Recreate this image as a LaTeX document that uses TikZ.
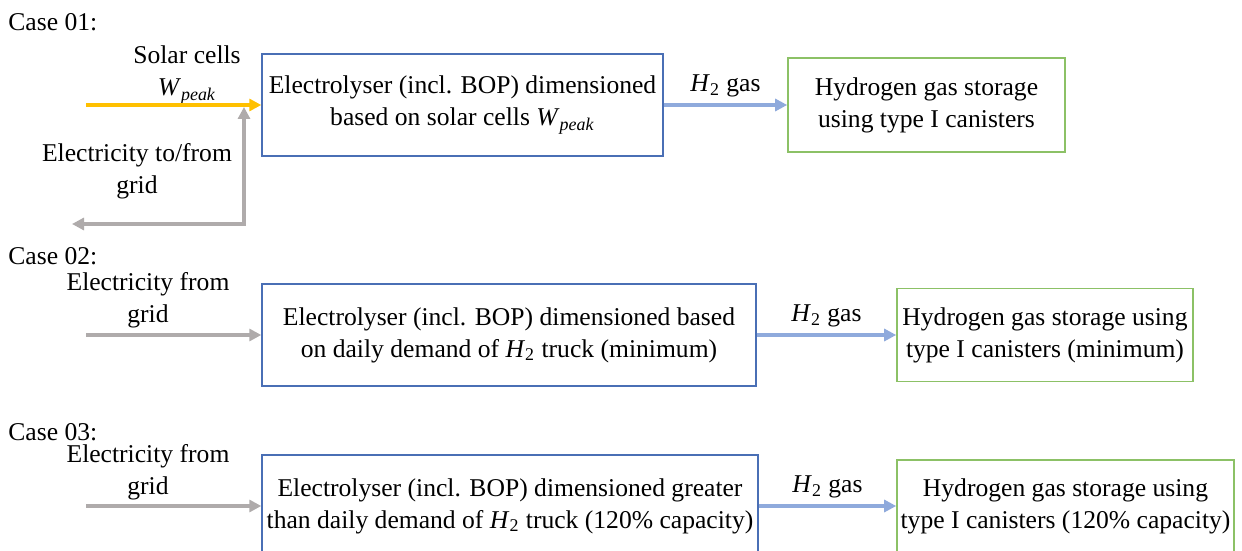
\documentclass[tikz,border=0pt]{standalone}
\usepackage{fontspec}
\setmainfont{Liberation Serif}
\usetikzlibrary{arrows.meta}
\definecolor{boxblue}{HTML}{4A6FB5}
\definecolor{boxgreen}{HTML}{8CC166}
\definecolor{solar}{HTML}{FFC000}
\definecolor{gridgray}{HTML}{AFABAB}
\definecolor{h2blue}{HTML}{8FAADC}
\tikzset{
  txt/.style={font=\fontsize{12.8}{16}\selectfont},
  elbox/.style={txt, draw=boxblue, line width=0.7pt, rectangle, align=center, inner sep=0pt},
  stbox/.style={txt, draw=boxgreen, line width=0.8pt, rectangle, align=center, inner sep=0pt},
  lbl/.style={txt, align=center, inner sep=0pt},
  flow/.style={line width=1.6pt, -{Triangle[length=6pt,width=6pt]}},
  solarflow/.style={flow, draw=solar},
  gridflow/.style={flow, draw=gridgray},
  h2flow/.style={flow, draw=h2blue},
}
\newcommand{\Htwo}{\textit{H}\textsubscript{2}}
\newcommand{\Wpk}{\textit{W}\textsubscript{\textit{peak}}}
\begin{document}
\begin{tikzpicture}[x=0.5pt,y=-0.5pt]
\clip (0,0) rectangle (1242,551);
\fill[white] (0,0) rectangle (1242,551);

% Case 01
\node[lbl, anchor=west] (c1) at (8,22) {Case 01:};
\node[lbl] (sol) at (187,75) {Solar cells\\\Wpk};
\node[lbl] (egrid1) at (137,171) {Electricity to/from\\grid};
\node[elbox, minimum width=200.5pt, minimum height=51pt] (el1) at (462.5,105) {Electrolyser (incl. BOP) dimensioned\\based on solar cells \Wpk};
\node[stbox, minimum width=138.5pt, minimum height=47pt] (st1) at (926.5,105) {Hydrogen gas storage\\using type I canisters};
\coordinate (s1) at (86,105);
\coordinate (g1a) at (72,224);
\coordinate (g1b) at (244,224);
\coordinate (g1c) at (244,107);
\draw[solarflow] (s1) -- (el1.west);
\draw[gridgray, line width=1.6pt, {Triangle[length=6pt,width=6pt]}-{Triangle[length=6pt,width=6pt]}] (g1a) -- (g1b) -- (g1c);
\draw[h2flow] (el1.east) -- (st1.west) node[lbl, midway, above=3pt] (h1) {\Htwo{} gas};

% Case 02
\node[lbl, anchor=west] (c2) at (8,256) {Case 02:};
\node[lbl] (egrid2) at (148,300) {Electricity from\\grid};
\node[elbox, minimum width=247pt, minimum height=51pt] (el2) at (509,335) {Electrolyser (incl. BOP) dimensioned based\\on daily demand of \Htwo{} truck (minimum)};
\node[stbox, minimum width=148pt, minimum height=46.5pt] (st2) at (1045,335) {Hydrogen gas storage using\\type I canisters (minimum)};
\coordinate (s2) at (86,335);
\draw[gridflow] (s2) -- (el2.west);
\draw[h2flow] (el2.east) -- (st2.west) node[lbl, midway, above=3pt] (h2) {\Htwo{} gas};

% Case 03
\node[lbl, anchor=west] (c3) at (8,432) {Case 03:};
\node[lbl] (egrid3) at (148,472) {Electricity from\\grid};
\node[elbox, minimum width=248pt, minimum height=51pt] (el3) at (510,506) {Electrolyser (incl. BOP) dimensioned greater\\than daily demand of \Htwo{} truck (120\% capacity)};
\node[stbox, minimum width=168.5pt, minimum height=46pt] (st3) at (1065.5,506) {Hydrogen gas storage using\\type I canisters (120\% capacity)};
\coordinate (s3) at (86,506);
\draw[gridflow] (s3) -- (el3.west);
\draw[h2flow] (el3.east) -- (st3.west) node[lbl, midway, above=3pt] (h3) {\Htwo{} gas};
\end{tikzpicture}
\end{document}
